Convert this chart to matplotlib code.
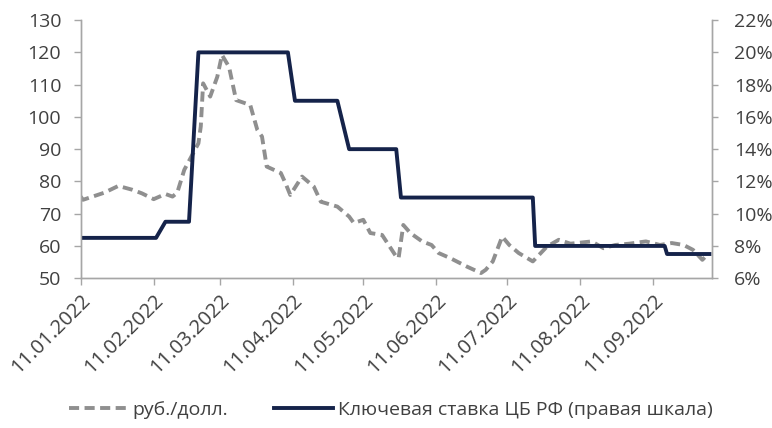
"""
USD/RUB vs CBR key rate, 2022
"""

import numpy as np
import pandas as pd
import matplotlib
matplotlib.use("Agg")
import matplotlib.pyplot as plt
import matplotlib.dates as mdates
from matplotlib.ticker import FuncFormatter

plt.rcParams["font.family"] = ["Open Sans", "DejaVu Sans"]

usd_dates = [
    "2022-01-11", "2022-01-12", "2022-01-21", "2022-01-27", "2022-02-02",
    "2022-02-06", "2022-02-11", "2022-02-16", "2022-02-19", "2022-02-21",
    "2022-02-24", "2022-02-27", "2022-03-02", "2022-03-03", "2022-03-04",
    "2022-03-07", "2022-03-10", "2022-03-12", "2022-03-15", "2022-03-18",
    "2022-03-24", "2022-03-27", "2022-03-29", "2022-03-31", "2022-04-06",
    "2022-04-08", "2022-04-10", "2022-04-15", "2022-04-20", "2022-04-23",
    "2022-04-30", "2022-05-05", "2022-05-07", "2022-05-11", "2022-05-14",
    "2022-05-19", "2022-05-25", "2022-05-26", "2022-05-28", "2022-05-31",
    "2022-06-05", "2022-06-09", "2022-06-12", "2022-06-17", "2022-06-24",
    "2022-06-30", "2022-07-02", "2022-07-05", "2022-07-09", "2022-07-12",
    "2022-07-16", "2022-07-22", "2022-07-28", "2022-08-02", "2022-08-07",
    "2022-08-16", "2022-08-21", "2022-08-26", "2022-09-01", "2022-09-08",
    "2022-09-14", "2022-09-19", "2022-09-24", "2022-09-28", "2022-10-02",
    "2022-10-04",
]
usd_rub = [
    75.3, 74.3, 76.5, 78.6, 77.4,
    76.3, 74.5, 76.1, 75.3, 76.5,
    83.6, 87.7, 91.8, 97.0, 110.4,
    106.3, 112.4, 119.2, 115.5, 105.2,
    103.7, 96.0, 93.9, 84.6, 82.6,
    79.4, 75.8, 81.5, 78.4, 73.7,
    72.2, 69.1, 67.1, 68.1, 64.0,
    63.4, 56.7, 56.2, 66.5, 64.0,
    61.4, 60.3, 57.8, 56.2, 53.6,
    51.6, 52.6, 55.2, 62.9, 60.3,
    57.8, 55.2, 59.8, 61.9, 60.7,
    61.4, 59.3, 60.3, 60.7, 61.4,
    60.3, 60.9, 60.3, 58.8, 55.7,
    57.2,
]

rate_dates = [
    "2022-01-11", "2022-02-12", "2022-02-16", "2022-02-26", "2022-03-02",
    "2022-04-09", "2022-04-12", "2022-04-30", "2022-05-05", "2022-05-25",
    "2022-05-27", "2022-07-22", "2022-07-23", "2022-09-16", "2022-09-17",
    "2022-10-05",
]
key_rate = [
    8.5, 8.5, 9.5, 9.5, 20.0,
    20.0, 17.0, 17.0, 14.0, 14.0,
    11.0, 11.0, 8.0, 8.0, 7.5,
    7.5,
]

tick_dates = ["2022-%02d-11" % m for m in range(1, 10)]

GRAY_LINE = "#8f8f8f"
NAVY = "#15234a"
SPINE = "#a6a6a6"
TEXT = "#404040"


def main():
    fig = plt.figure(figsize=(7.72, 4.28), dpi=100)
    ax = fig.add_axes([0.1045, 0.35, 0.8175, 0.603])
    ax2 = ax.twinx()

    ud = pd.to_datetime(usd_dates)
    rd = pd.to_datetime(rate_dates)

    l1, = ax.plot(ud, usd_rub, color=GRAY_LINE, lw=2.8, ls=(0, (2.6, 1.4)),
                  solid_capstyle="butt", label="руб./долл.")
    l2, = ax2.plot(rd, key_rate, color=NAVY, lw=2.8,
                   label="Ключевая ставка ЦБ РФ (правая шкала)")

    ax.set_xlim(pd.Timestamp("2022-01-11"), pd.Timestamp("2022-10-06"))
    ax.set_ylim(50, 130)
    ax2.set_ylim(6, 22)
    ax.set_yticks(np.arange(50, 131, 10))
    ax2.set_yticks(np.arange(6, 23, 2))
    ax2.yaxis.set_major_formatter(FuncFormatter(lambda v, p: "%d%%" % v))

    ax.set_xticks(pd.to_datetime(tick_dates))
    ax.xaxis.set_major_formatter(mdates.DateFormatter("%d.%m.%Y"))
    for lab in ax.get_xticklabels():
        lab.set_rotation(45)
        lab.set_ha("right")
        lab.set_rotation_mode("anchor")

    for a in (ax, ax2):
        a.spines["top"].set_visible(False)
        for s in ("left", "right", "bottom"):
            a.spines[s].set_color(SPINE)
            a.spines[s].set_linewidth(1.0)
        a.tick_params(colors=SPINE, labelcolor=TEXT, length=5, width=1.0,
                      labelsize=14)
    ax.tick_params(axis="x", labelsize=14.5, pad=4)
    ax.tick_params(axis="y", pad=9)
    ax2.tick_params(axis="y", length=4, pad=12)

    fig.legend([l1, l2], [l1.get_label(), l2.get_label()], loc="center",
               bbox_to_anchor=(0.506, 0.042), ncol=2, frameon=False,
               fontsize=14, handlelength=3.0, columnspacing=2.4,
               handletextpad=0.25, labelcolor=TEXT)

    fig.savefig("out.png", dpi=100)


if __name__ == "__main__":
    main()
